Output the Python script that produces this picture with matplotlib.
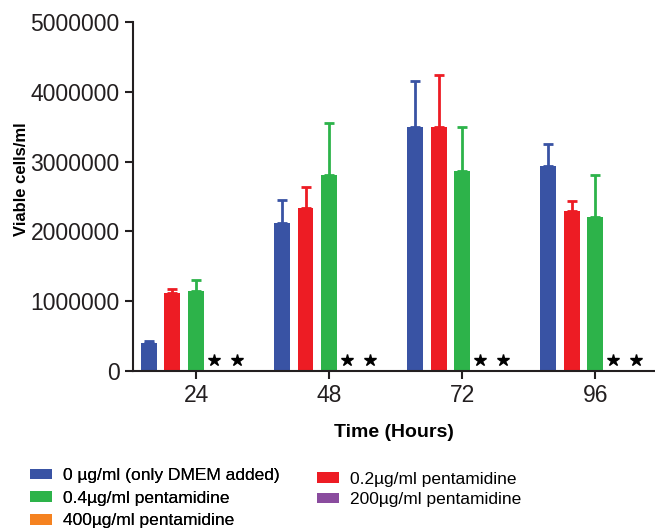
import numpy as np
import matplotlib
matplotlib.use("Agg")
from matplotlib import pyplot as plt
from matplotlib.patches import Patch

plt.rcParams['font.family'] = ['Liberation Sans', 'DejaVu Sans']

# data
hours = ["24", "48", "72", "96"]
series = ["0 µg/ml (only DMEM added)", "0.2µg/ml pentamidine", "0.4µg/ml pentamidine",
          "200µg/ml pentamidine", "400µg/ml pentamidine"]
colors = ["#3953A4", "#ED1C24", "#2DB34A", "#8A4C9E", "#F58220"]

means = [
    [400000, 2120000, 3490000, 2940000],     # 0 ug/ml
    [1110000, 2330000, 3500000, 2290000],    # 0.2 ug/ml
    [1140000, 2810000, 2860000, 2210000],    # 0.4 ug/ml
    [15000, 0, 15000, 0],                    # 200 ug/ml
    [0, 0, 0, 0],                            # 400 ug/ml
]
errs = [
    [30000, 330000, 670000, 320000],
    [60000, 310000, 750000, 150000],
    [160000, 750000, 640000, 600000],
    [0, 0, 0, 0],
    [0, 0, 0, 0],
]
# significance stars (over 200 and 400 ug/ml bars)
star_series = [3, 4]
star_y = 160000

fig = plt.figure(figsize=(6.55, 5.29), dpi=100)
ax = fig.add_axes([0.203, 0.299, 0.797, 0.659])

x = np.arange(len(hours))
step = 0.177
width = 0.12
for i in range(len(series)):
    pos = x + (i - 2) * step
    ax.bar(pos, means[i], width, color=colors[i], zorder=2)
    if any(errs[i]):
        ax.errorbar(pos, means[i], yerr=[np.zeros(len(hours)), errs[i]], fmt='none',
                    ecolor=colors[i], elinewidth=2, capsize=3.5, capthick=2, zorder=1)

for i in star_series:
    ax.plot(x + (i - 2) * step - 0.045, [star_y] * len(hours), linestyle='none', marker='*',
            color='black', markersize=9)

ax.set_xlim(-0.474, 3.45)
ax.set_ylim(0, 5000000)
ax.set_yticks(np.arange(0, 5000001, 1000000))
ax.set_yticklabels([str(v) for v in range(0, 5000001, 1000000)])
ax.set_xticks(x)
ax.set_xticklabels(hours)
ax.tick_params(axis='both', labelsize=16.5, colors='#231F20', width=1.5, length=6, direction='out')
for s in ['top', 'right']:
    ax.spines[s].set_visible(False)
for s in ['left', 'bottom']:
    ax.spines[s].set_linewidth(1.5)
    ax.spines[s].set_color('#231F20')

ax.set_ylabel("Viable cells/ml", fontsize=12, fontweight='bold')
ax.yaxis.set_label_coords(-0.20, 0.55)
ax.set_xlabel("Time (Hours)", fontsize=14, fontweight='bold', labelpad=12)

leg_opts = dict(loc='upper left', frameon=False, fontsize=12.5, handlelength=1.27,
                handleheight=0.58, handletextpad=0.65, borderaxespad=0, borderpad=0)
leg1 = fig.legend([Patch(facecolor=colors[k]) for k in [0, 2, 4]],
                  [series[k] for k in [0, 2, 4]],
                  bbox_to_anchor=(0.046, 0.115), labelspacing=0.44, **leg_opts)
fig.add_artist(leg1)
fig.legend([Patch(facecolor=colors[k]) for k in [1, 3]],
           [series[k] for k in [1, 3]],
           bbox_to_anchor=(0.484, 0.108), labelspacing=0.3, **leg_opts)

fig.savefig("out.png", dpi=100)
